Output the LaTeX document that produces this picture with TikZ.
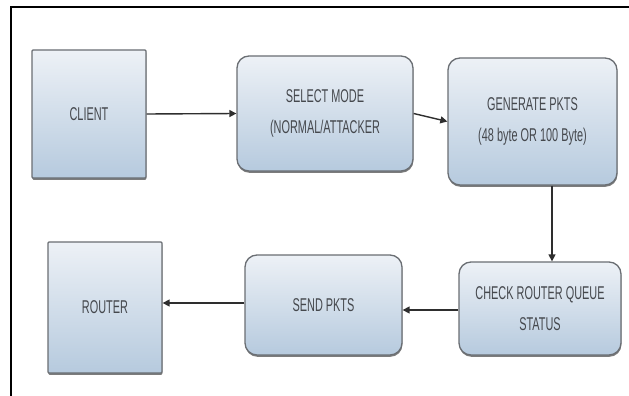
\documentclass[tikz,border=0pt]{standalone}
\usepackage{fontspec}
\setmainfont[FakeStretch=0.59]{Liberation Sans}
\usetikzlibrary{arrows.meta,shadows}
\definecolor{boxtop}{HTML}{EDF1F6}
\definecolor{boxbot}{HTML}{B6CADE}
\definecolor{boxline}{HTML}{6A6E73}
\definecolor{txt}{HTML}{45484D}
\definecolor{arr}{HTML}{2E2E2E}
\tikzset{
  blk/.style={draw=boxline, line width=1.3pt, top color=boxtop, bottom color=boxbot,
    drop shadow={shadow xshift=0.4pt, shadow yshift=-1.8pt, fill=black!60, opacity=0.85},
    text=txt, align=center, inner sep=0pt,
    font=\fontsize{18.5}{31}\selectfont},
  sqbox/.style={blk, rounded corners=1pt},
  rbox/.style={blk, rounded corners=12pt},
  conn/.style={draw=arr, line width=1.4pt, -{Triangle[length=7pt,width=7pt]}},
  frame/.style={draw=black, line width=1.8pt}
}
\begin{document}
\begin{tikzpicture}[x=1pt,y=-1pt]
\useasboundingbox (0,0) rectangle (629,396);
\fill[white] (0,0) rectangle (629,396);
\coordinate (ftl) at (11,7);
\coordinate (ftr) at (629,7);
\coordinate (fbl) at (11,396);
\draw[frame] (ftr) -- (ftl) -- (fbl);

\node[sqbox, minimum width=114pt, minimum height=128pt] (client) at (89,114) {CLIENT};
\node[rbox, minimum width=176pt, minimum height=115pt] (select) at (325,113.5) {SELECT MODE\\(NORMAL/ATTACKER};
\node[rbox, minimum width=169pt, minimum height=127pt] (gen) at (532.5,121.5) {GENERATE PKTS\\(48 byte OR 100 Byte)};
\node[rbox, minimum width=162pt, minimum height=93pt] (check) at (540,308.5) {CHECK ROUTER QUEUE\\STATUS};
\node[rbox, minimum width=157pt, minimum height=100pt] (send) at (323.5,305) {SEND PKTS};
\node[sqbox, minimum width=114pt, minimum height=131pt] (router) at (105,307.5) {ROUTER};

\draw[conn] (client.east) -- (select.west);
\draw[conn] (select.east) -- (gen.west);
\draw[conn] ([xshift=19.5pt]gen.south) -- ([xshift=12pt]check.north);
\draw[conn] ([yshift=-1.5pt]check.west) -- ([yshift=-1.5pt]check.west -| send.east);
\draw[conn] ([yshift=2pt]send.west) -- ([yshift=2pt]send.west -| router.east);
\end{tikzpicture}
\end{document}
